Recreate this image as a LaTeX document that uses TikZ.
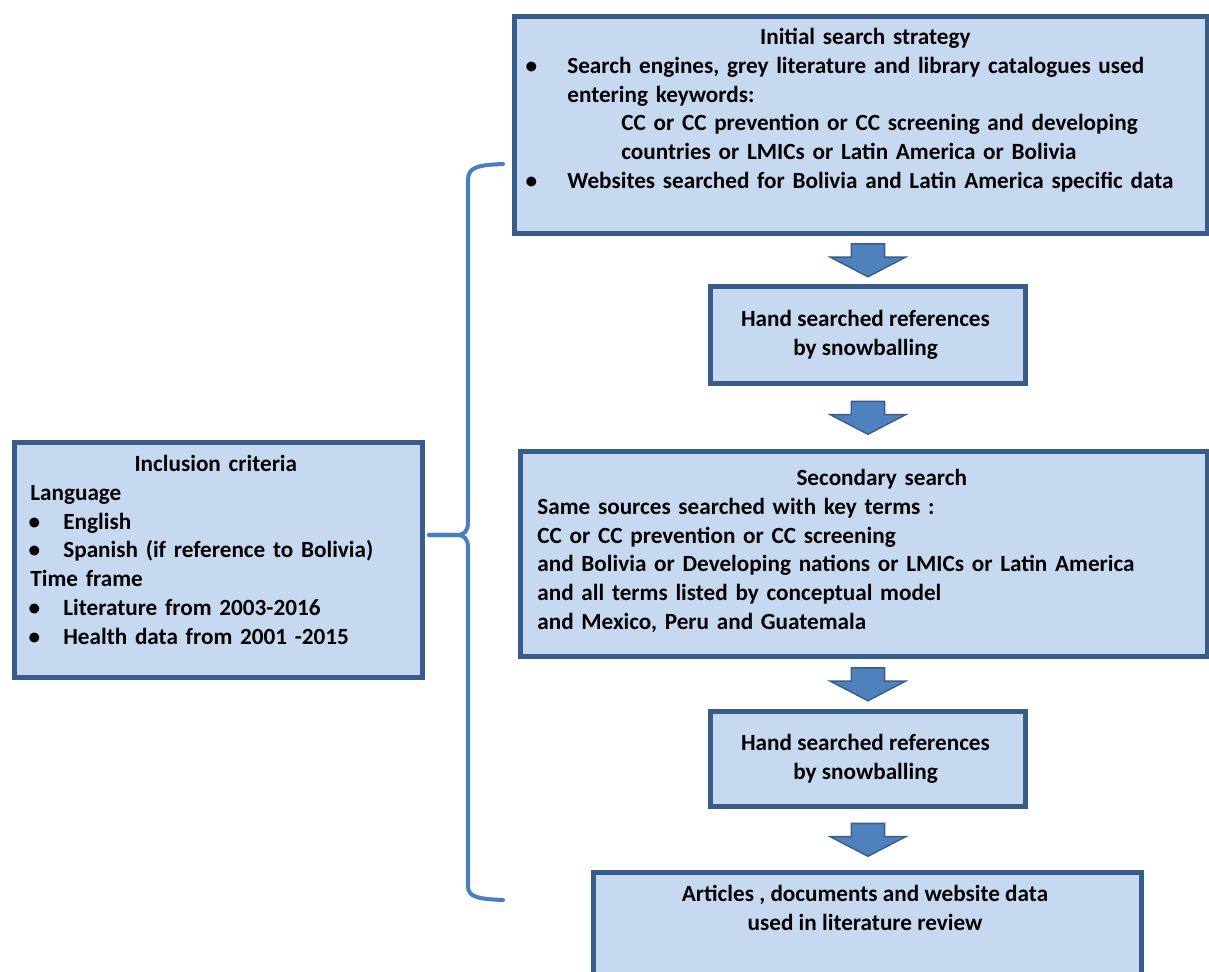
\documentclass[tikz,border=0pt]{standalone}
\usepackage{fontspec}
\setmainfont{Carlito}
\usetikzlibrary{shapes.arrows,calc}
\definecolor{boxfill}{HTML}{C6D9F1}
\definecolor{boxline}{HTML}{385D8A}
\definecolor{arrowfill}{HTML}{4F81BD}
\definecolor{bracecol}{HTML}{4A7EBD}
\newcommand{\itm}[3]{\hspace*{#1}\makebox[0pt]{\textbullet}\hspace*{#2}#3}
\begin{document}
\begin{tikzpicture}[x=0.02cm,y=-0.02cm,
        box/.style={rectangle,draw=boxline,fill=boxfill,line width=2.8pt,anchor=north west,inner sep=0pt},
        txt/.style={anchor=north west,inner sep=0pt,align=left,font=\fontsize{13.2}{16.44}\bfseries\selectfont},
        ctxt/.style={txt,anchor=north,align=center},
        fatarrow/.style={single arrow,draw=boxline,fill=arrowfill,line width=0.8pt,shape border rotate=270,
            minimum height=0.66cm,minimum width=1.48cm,single arrow head extend=0.42cm,
            single arrow tip angle=125,inner xsep=0.32cm,inner ysep=0pt,yshift=0.08cm},
        bracket/.style={draw=bracecol,line width=2.3pt,line join=round,line cap=round}]
    \clip (0,0) rectangle (1209,971);
    % boxes of the search, top to bottom
    \node[box,minimum width=13.86cm,minimum height=4.34cm] (b1) at (512,14) {};
    \node[box,minimum width=6.30cm,minimum height=1.94cm] (b2) at (708,284) {};
    \node[box,minimum width=13.74cm,minimum height=4.10cm] (b3) at (518,449) {};
    \node[box,minimum width=6.30cm,minimum height=1.90cm] (b4) at (708,709) {};
    \node[box,minimum width=10.96cm,minimum height=3.00cm] (b5) at (591,870) {};
    % criteria box on the left
    \node[box,minimum width=8.16cm,minimum height=4.70cm] (incl) at (12,440) {};

    % texts
    \node[txt,text width=13.86cm] (t1) at (512,23.7) {\strut\hspace*{7.06cm}\makebox[0pt]{Initial search strategy}\\
        \itm{0.38cm}{0.72cm}{Search engines, grey literature and library catalogues used}\\
        \hspace*{1.10cm}entering keywords:\\
        \hspace*{2.18cm}CC or CC prevention or CC screening and developing\\
        \hspace*{2.18cm}countries or LMICs or Latin America or Bolivia\\
        \itm{0.38cm}{0.72cm}{Websites searched for Bolivia and Latin America specific data}};
    \node[ctxt] (t2) at (865.5,305.7) {\strut Hand searched references\\by snowballing};
    \node[txt,text width=13.74cm] (t3) at (518,464.7) {\strut\hspace*{7.27cm}\makebox[0pt]{Secondary search}\\
        \hspace*{0.38cm}Same sources searched with key terms :\\
        \hspace*{0.38cm}CC or CC prevention or CC screening\\
        \hspace*{0.38cm}and Bolivia or Developing nations or LMICs or Latin America\\
        \hspace*{0.38cm}and all terms listed by conceptual model\\
        \hspace*{0.38cm}and Mexico, Peru and Guatemala};
    \node[ctxt] (t4) at (865.5,729.7) {\strut Hand searched references\\by snowballing};
    \node[ctxt] (t5) at (865,880.7) {\strut Articles , documents and website data\\used in literature review};
    \node[txt,text width=8.16cm] (t6) at (12,450.7) {\strut\hspace*{4.07cm}\makebox[0pt]{Inclusion criteria}\\
        \hspace*{0.36cm}Language\\
        \itm{0.44cm}{0.58cm}{English}\\
        \itm{0.44cm}{0.58cm}{Spanish (if reference to Bolivia)}\\
        \hspace*{0.36cm}Time frame\\
        \itm{0.44cm}{0.58cm}{Literature from 2003-2016}\\
        \itm{0.44cm}{0.58cm}{Health data from 2001 -2015}};

    % block arrows between the boxes
    \foreach \u/\v [count=\i] in {b1/b2,b2/b3,b3/b4,b4/b5} {
        \path ($(\u.south)!.5!(\v.north)$) coordinate (m\i);
        \node[fatarrow] (a\i) at (m\i -| b2.north) {};
    }

    % bracket that joins the criteria to the search
    \coordinate (bt) at (503,164);
    \coordinate (bb) at (503,900);
    \coordinate (tip) at (429,535);
    \draw[bracket] (bt) .. controls (478,165) and (468,167) .. (468,180) -- (468,522)
        .. controls (468,531) and (465,535) .. (456,535) -- (tip);
    \draw[bracket] (tip) -- (456,535) .. controls (465,535) and (468,539) .. (468,548) -- (468,886)
        .. controls (468,897) and (478,899) .. (bb);
\end{tikzpicture}
\end{document}
